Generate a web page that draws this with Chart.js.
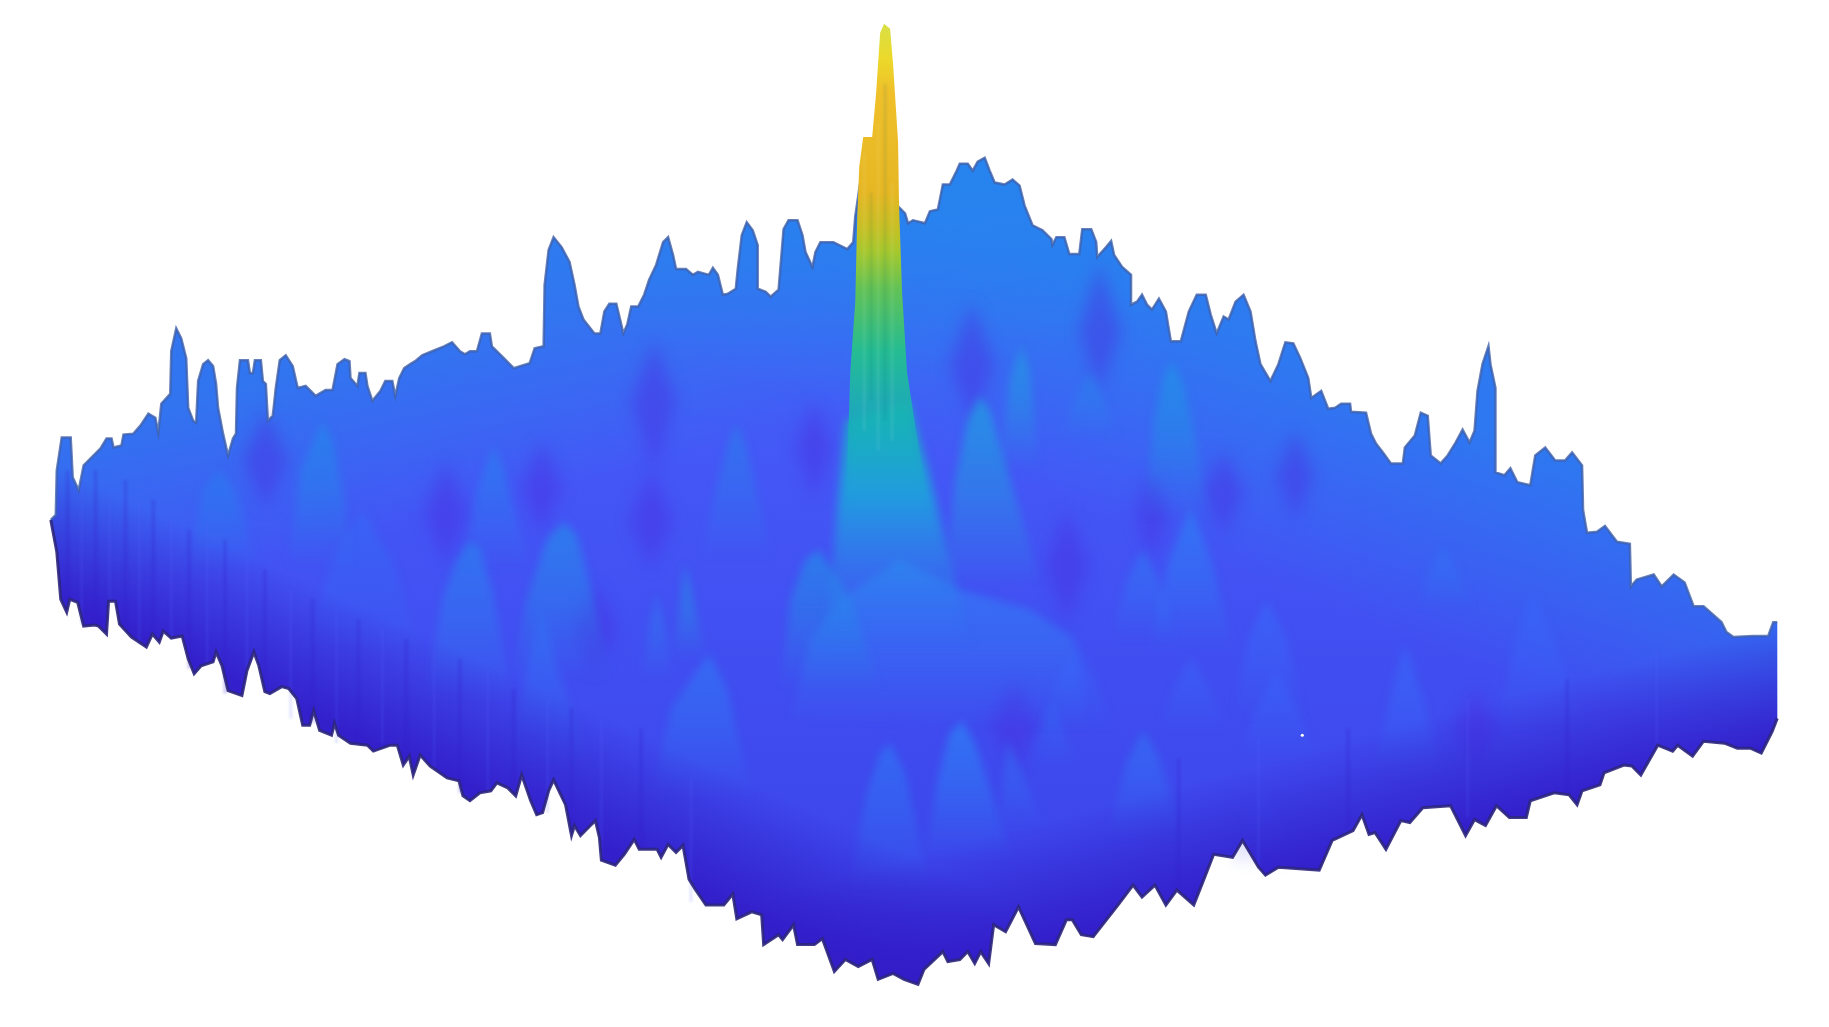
<!DOCTYPE html>
<html>
<head>
<meta charset="utf-8">
<title>Surface</title>
<script src="https://cdn.jsdelivr.net/npm/chart.js"></script>
<style>
html, body { margin: 0; padding: 0; background: #fff; }
canvas { display: block; filter: blur(0.7px); }
</style>
</head>
<body>
<canvas id="grafico" width="1829" height="1027"></canvas>
<script>
// silhouette of the surface as [column, row]
const topEdge = [[47,520],[52,515],[53,470],[58,437],[67,437],[69,477],[75,490],[80,465],[88,457],[97,448],[103,438],[108,438],[110,447],[118,445],[120,434],[130,433],[137,425],[145,413],[152,417],[155,432],[158,403],[167,393],[168,350],[173,327],[178,337],[183,357],[185,407],[190,420],[193,422],[195,380],[200,363],[205,359],[210,365],[213,383],[215,407],[220,433],[225,455],[230,438],[233,433],[234,387],[237,359],[245,359],[247,372],[250,372],[252,359],[258,359],[260,380],[263,383],[265,420],[270,415],[273,387],[277,359],[283,354],[290,365],[295,387],[303,385],[313,395],[323,389],[330,389],[335,363],[342,358],[347,360],[348,377],[355,385],[357,372],[363,372],[365,385],[370,400],[378,390],[383,380],[390,380],[393,395],[397,377],[402,367],[408,363],[413,360],[420,354],[430,350],[442,345],[450,341],[458,350],[463,353],[468,350],[475,350],[480,332],[488,332],[490,345],[500,355],[512,367],[528,362],[533,347],[542,345],[543,283],[547,248],[552,235],[560,245],[568,260],[573,283],[577,305],[582,318],[593,332],[599,332],[603,310],[608,302],[615,302],[620,323],[622,332],[626,323],[630,305],[637,305],[643,293],[648,278],[655,263],[662,240],[667,235],[672,253],[675,267],[685,267],[692,273],[697,270],[708,273],[712,266],[717,273],[722,293],[727,292],[735,287],[737,267],[741,233],[746,220],[752,228],[757,243],[757,287],[765,290],[770,295],[778,288],[783,227],[788,218],[797,218],[802,233],[805,250],[812,265],[815,250],[820,240],[833,240],[847,247],[853,240],[855,214],[860,180],[870,180],[890,180],[898,204],[905,211],[908,221],[913,218],[925,221],[930,209],[938,207],[943,182],[950,182],[956,170],[960,161],[968,161],[973,168],[978,159],[985,155],[990,168],[995,180],[1005,182],[1013,177],[1020,183],[1025,203],[1033,223],[1043,228],[1052,237],[1053,243],[1057,235],[1065,235],[1070,252],[1080,252],[1083,227],[1092,227],[1097,240],[1098,255],[1107,245],[1112,239],[1115,253],[1123,265],[1132,273],[1132,303],[1138,300],[1143,293],[1148,303],[1153,308],[1160,297],[1167,310],[1172,340],[1182,340],[1190,310],[1198,293],[1207,293],[1212,313],[1218,332],[1225,315],[1230,318],[1237,300],[1245,293],[1252,310],[1257,340],[1262,363],[1272,380],[1280,363],[1287,341],[1295,342],[1302,357],[1310,377],[1313,397],[1323,390],[1330,408],[1337,407],[1343,403],[1352,403],[1353,411],[1368,412],[1373,433],[1378,443],[1385,452],[1393,463],[1405,463],[1407,447],[1417,435],[1423,412],[1430,415],[1433,455],[1443,463],[1450,455],[1458,442],[1465,429],[1472,442],[1477,430],[1480,390],[1485,363],[1491,345],[1493,363],[1498,387],[1498,472],[1507,475],[1513,468],[1520,482],[1533,485],[1535,473],[1538,455],[1548,447],[1558,460],[1568,460],[1575,452],[1585,465],[1586,510],[1590,533],[1600,532],[1608,526],[1620,542],[1633,544],[1634,587],[1640,580],[1657,575],[1665,587],[1677,575],[1688,583],[1697,607],[1707,607],[1725,623],[1730,633],[1737,638],[1757,637],[1772,637],[1777,623],[1781,623]];
const bottomEdge = [[47,520],[53,552],[57,600],[63,613],[66,600],[74,603],[80,627],[91,626],[95,627],[103,635],[105,602],[112,602],[116,625],[128,638],[143,648],[149,635],[156,643],[160,632],[168,639],[179,637],[185,660],[191,675],[198,667],[210,663],[213,653],[219,667],[225,692],[239,697],[244,672],[251,653],[256,667],[262,693],[267,695],[279,688],[286,690],[294,700],[300,727],[307,727],[311,712],[317,732],[329,737],[332,725],[336,737],[348,745],[365,747],[371,753],[388,747],[395,747],[401,767],[407,758],[411,777],[418,757],[428,768],[445,780],[457,783],[461,798],[468,803],[478,795],[489,793],[495,785],[506,790],[514,798],[520,777],[529,803],[535,817],[541,815],[547,793],[552,782],[564,807],[570,838],[573,828],[579,838],[589,828],[594,823],[598,840],[600,863],[614,868],[623,857],[633,842],[638,852],[656,852],[660,860],[667,847],[675,855],[682,848],[688,882],[694,892],[705,908],[723,908],[732,897],[736,922],[751,915],[761,918],[763,948],[778,938],[782,943],[793,928],[797,948],[814,948],[822,942],[834,975],[845,963],[858,970],[872,963],[878,983],[893,977],[904,983],[918,988],[924,973],[943,955],[948,965],[960,963],[968,955],[975,967],[981,955],[989,967],[994,928],[1006,935],[1019,910],[1036,947],[1056,948],[1067,923],[1073,923],[1082,938],[1094,940],[1119,908],[1134,888],[1143,900],[1156,888],[1167,908],[1178,893],[1195,908],[1206,880],[1215,857],[1234,860],[1244,843],[1260,870],[1267,878],[1280,870],[1321,873],[1334,843],[1355,833],[1364,817],[1371,837],[1377,835],[1388,852],[1403,823],[1412,825],[1425,810],[1453,808],[1468,838],[1477,822],[1488,828],[1499,808],[1512,820],[1529,820],[1533,803],[1557,795],[1572,797],[1580,807],[1585,793],[1603,787],[1607,775],[1627,767],[1635,768],[1644,777],[1661,747],[1676,753],[1681,747],[1696,758],[1707,743],[1728,745],[1741,750],[1754,750],[1765,755],[1776,733],[1781,720]];

// the tall spike in the middle and its foot
const spike = [[846,500],[850,371],[855,300],[857,214],[859,164],[863,134],[872,134],[876,89],[880,29],[884,20],[890,25],[893,61],[898,139],[899,204],[902,290],[907,371],[916,430],[928,500]];
const spikeFoot = [[825,650],[836,520],[846,420],[908,400],[928,470],[945,540],[972,650]];

// lighter humps inside the surface
const humpA = [[425,700],[440,600],[455,560],[467,542],[478,548],[490,590],[510,700]];
const humpB = [[510,680],[525,600],[545,540],[562,522],[575,535],[590,590],[610,680]];
const humpC = [[780,690],[790,600],[805,560],[818,550],[832,570],[850,600],[880,690]];
const humpD = [[945,590],[955,480],[968,420],[980,395],[990,410],[1005,460],[1040,580]];
const humpE = [[1000,470],[1010,380],[1022,345],[1030,370],[1040,470]];
const humpF = [[1145,520],[1155,420],[1165,375],[1173,360],[1185,385],[1195,430],[1210,520]];
const humpG = [[700,560],[715,490],[728,440],[736,423],[745,445],[758,500],[772,560]];
const humpH = [[460,570],[475,490],[492,445],[502,470],[515,520],[530,570]];
const humpI = [[285,570],[298,470],[320,420],[330,440],[342,500],[350,570]];
const humpJ = [[185,570],[200,490],[215,470],[232,490],[255,570]];
const humpK = [[925,860],[938,780],[950,735],[962,722],[975,745],[990,790],[1012,860]];
const humpL = [[850,890],[865,800],[880,755],[890,745],[905,775],[930,890]];
const humpM = [[1110,840],[1125,770],[1144,732],[1160,760],[1185,840]];
const humpN = [[1375,780],[1392,700],[1407,646],[1425,700],[1445,780]];
const humpO = [[1150,650],[1170,560],[1192,508],[1212,560],[1235,650]];
const humpP = [[1235,720],[1250,640],[1268,600],[1288,640],[1305,720]];
const humpQ = [[790,720],[810,640],[840,600],[900,560],[960,590],[1030,610],[1075,640],[1090,730]];
const humpR = [[650,800],[670,710],[708,655],[726,690],[752,800]];
const humpS = [[505,770],[525,670],[540,608],[556,670],[590,770]];
const humpT = [[1500,730],[1518,640],[1536,592],[1556,640],[1590,730]];
const humpU = [[1112,640],[1128,580],[1144,550],[1160,580],[1178,640]];
const humpV = [[300,660],[330,560],[360,510],[390,560],[420,660]];
const humpW = [[640,680],[648,630],[655,595],[664,630],[672,680]];
const humpX = [[672,660],[680,600],[684,565],[692,600],[705,660]];
const humpY = [[1060,440],[1075,400],[1091,370],[1105,400],[1120,440]];
const humpZ = [[1420,610],[1432,570],[1445,546],[1460,570],[1475,610]];
const humpAA = [[1040,730],[1058,680],[1077,646],[1095,680],[1115,730]];
const humpAB = [[1160,730],[1175,690],[1192,660],[1210,690],[1230,730]];
const humpAC = [[1240,760],[1258,710],[1278,674],[1298,710],[1320,760]];
const humpAD = [[1000,830],[1005,770],[1008,742],[1020,770],[1045,830]];
const humpAE = [[1230,870],[1250,820],[1264,790],[1280,820],[1300,870]];
const humpAF = [[1030,770],[1040,735],[1053,704],[1065,735],[1080,770]];

// darker hollows between the humps
const hollowA = [[653,340],[675,400],[653,470],[630,400]];
const hollowB = [[1067,510],[1090,565],[1067,625],[1045,565]];
const hollowC = [[444,460],[465,513],[444,565],[422,513]];
const hollowD = [[1015,680],[1040,725],[1015,775],[990,725]];
const hollowE = [[972,300],[995,364],[972,420],[950,364]];
const hollowF = [[650,470],[672,520],[650,570],[628,520]];
const hollowG = [[540,440],[560,487],[540,535],[520,487]];
const hollowH = [[813,400],[832,447],[813,500],[795,447]];
const hollowI = [[263,410],[285,460],[263,510],[240,460]];
const hollowJ = [[593,585],[615,630],[593,675],[572,630]];
const hollowK = [[1225,450],[1245,491],[1225,535],[1205,491]];
const hollowL = [[1297,430],[1315,475],[1297,520],[1278,475]];
const hollowM = [[1153,470],[1170,514],[1153,560],[1136,514]];
const hollowN = [[1100,260],[1122,330],[1100,390],[1080,330]];
const hollowO = [[1478,690],[1500,730],[1478,770],[1455,730]];

// vertical streaks along the front of the surface: column, from row, to row
const streakX = [64,78,92,106,122,136,150,168,186,204,222,244,262,288,310,334,356,380,404,432,458,486,512,546,570,600,640,690,1180,1260,1350,1470,1570,1660];
const streakFrom = [470,480,470,500,480,500,500,520,530,520,540,560,570,590,600,610,620,630,640,650,660,670,690,700,710,720,730,780,760,740,730,700,680,650];
const streakTo = [600,625,625,600,630,645,635,640,670,665,695,670,690,720,725,745,745,745,765,770,795,795,795,815,835,860,850,905,890,870,830,820,795,745];

// streaks running down the spike
const spikeStreakX = [864,871,878,885,892];
const spikeStreakFrom = [150,190,120,80,180];
const spikeStreakTo = [430,400,450,420,440];

const reflection = [[1304,737]];

const canvas = document.getElementById('grafico');
const ctx = canvas.getContext('2d');

function degrade(x0, y0, x1, y1, paradas) {
    const g = ctx.createLinearGradient(x0, y0, x1, y1);
    paradas.forEach(p => g.addColorStop(p[0], p[1]));
    return g;
}

function ponto(p) {
    return { x: p[0], y: p[1] };
}

function forma(pontos, fundo, suave) {
    return {
        data: pontos.map(ponto),
        showLine: true,
        fill: 'shape',
        borderWidth: 0,
        backgroundColor: fundo,
        pointRadius: 0,
        suave: suave || 0
    };
}

function lombada(pontos, r, g, b, alfa) {
    const ys = pontos.map(p => p[1]);
    const topo = Math.min(...ys);
    const base = Math.max(...ys);
    return forma(pontos, degrade(0, topo, 0, base, [
        [0, `rgba(${r},${g},${b},${alfa})`],
        [0.5, `rgba(${r},${g},${b},${alfa * 0.6})`],
        [1, `rgba(${r},${g},${b},0)`]
    ]), 4);
}

function cavidade(pontos) {
    return forma(pontos, 'rgba(74,44,224,0.42)', 8);
}

function estrias(xs, de, ate, resto, cor, largura) {
    const pts = [];
    xs.forEach((x, i) => {
        if (i % 2 === resto) {
            pts.push({ x: x, y: de[i] }, { x: x, y: ate[i] }, { x: x, y: NaN });
        }
    });
    return { data: pts, showLine: true, borderColor: cor, borderWidth: largura, pointRadius: 0, fill: false, spanGaps: false, suave: 1 };
}

const silhueta = topEdge.concat(bottomEdge.slice().reverse());

// listed back to front, Chart.js paints the first dataset last so the list is flipped below
const camadas = [
    forma(silhueta, degrade(0, 150, 0, 900, [[0, '#3f6cf6'], [0.45, '#4456f6'], [1, '#3c44ea']])),
    // lighter band behind the back edges
    forma(silhueta, degrade(465, 327, 512, 501, [[0, 'rgba(38,132,236,0.6)'], [1, 'rgba(38,132,236,0)']])),
    forma(silhueta, degrade(1255, 340, 1175, 545, [[0, 'rgba(34,136,238,0.65)'], [1, 'rgba(34,136,238,0)']])),
    cavidade(hollowA), cavidade(hollowB), cavidade(hollowC), cavidade(hollowD), cavidade(hollowE),
    cavidade(hollowF), cavidade(hollowG), cavidade(hollowH), cavidade(hollowI), cavidade(hollowJ),
    cavidade(hollowK), cavidade(hollowL), cavidade(hollowM), cavidade(hollowN), cavidade(hollowO),
    lombada(humpQ, 50, 125, 245, 0.75),
    lombada(humpV, 50, 110, 245, 0.5),
    lombada(humpA, 46, 125, 240, 0.75),
    lombada(humpB, 40, 135, 235, 0.75),
    lombada(humpC, 36, 140, 232, 0.7),
    lombada(humpD, 34, 155, 225, 0.8),
    lombada(humpE, 34, 155, 225, 0.7),
    lombada(humpF, 34, 145, 230, 0.75),
    lombada(humpG, 40, 130, 235, 0.6),
    lombada(humpH, 40, 130, 240, 0.65),
    lombada(humpI, 36, 135, 235, 0.7),
    lombada(humpJ, 40, 125, 240, 0.6),
    lombada(humpK, 46, 125, 245, 0.8),
    lombada(humpL, 46, 120, 245, 0.65),
    lombada(humpM, 50, 115, 245, 0.65),
    lombada(humpN, 55, 110, 250, 0.6),
    lombada(humpO, 46, 125, 245, 0.75),
    lombada(humpP, 55, 110, 250, 0.55),
    lombada(humpR, 46, 125, 245, 0.6),
    lombada(humpS, 50, 115, 245, 0.6),
    lombada(humpT, 55, 105, 250, 0.55),
    lombada(humpU, 46, 125, 245, 0.55),
    lombada(humpW, 46, 125, 240, 0.6),
    lombada(humpX, 36, 145, 228, 0.7),
    lombada(humpY, 40, 135, 235, 0.55),
    lombada(humpZ, 50, 115, 245, 0.6),
    lombada(humpAA, 55, 105, 250, 0.5),
    lombada(humpAB, 55, 105, 250, 0.5),
    lombada(humpAC, 55, 105, 250, 0.5),
    lombada(humpAD, 50, 115, 245, 0.6),
    lombada(humpAE, 60, 80, 245, 0.45),
    lombada(humpAF, 50, 110, 245, 0.45),
    // dark front edges
    forma(silhueta, degrade(475, 790, 525, 680, [[0, 'rgba(50,28,200,0.92)'], [1, 'rgba(50,28,200,0)']])),
    forma(silhueta, degrade(1340, 862, 1310, 750, [[0, 'rgba(50,28,200,0.92)'], [1, 'rgba(50,28,200,0)']])),
    estrias(streakX, streakFrom, streakTo, 0, 'rgba(50,30,200,0.2)', 4),
    estrias(streakX, streakFrom, streakTo, 1, 'rgba(90,100,255,0.16)', 3),
    // outlines
    { data: topEdge.map(ponto), showLine: true, borderColor: 'rgba(62,96,170,0.8)', borderWidth: 2.5, pointRadius: 0, fill: false },
    { data: bottomEdge.map(ponto), showLine: true, borderColor: 'rgba(44,38,125,0.9)', borderWidth: 3, pointRadius: 0, fill: false },
    forma(spikeFoot, degrade(0, 400, 0, 650, [[0, 'rgba(24,178,190,0.95)'], [0.4, 'rgba(28,165,220,0.85)'], [1, 'rgba(50,120,245,0)']]), 5),
    forma(spike, degrade(0, 20, 0, 500, [
        [0, '#d6e04a'], [0.08, '#ecd92a'], [0.15, '#efc02a'], [0.36, '#e6b722'], [0.43, '#c8bf24'],
        [0.48, '#a8c82c'], [0.56, '#62c255'], [0.69, '#25bc92'], [0.83, 'rgba(23,179,180,0.85)'], [1, 'rgba(25,170,205,0)']
    ])),
    estrias(spikeStreakX, spikeStreakFrom, spikeStreakTo, 0, 'rgba(255,255,255,0.08)', 3),
    estrias(spikeStreakX, spikeStreakFrom, spikeStreakTo, 1, 'rgba(0,90,110,0.1)', 3),
    { data: reflection.map(ponto), pointRadius: 1.6, pointBackgroundColor: '#ffffff', pointBorderWidth: 0, showLine: false }
];

// soft edges for the inner layers: the filter is set once the previous layer is done
const desfoque = {
    id: 'desfoque',
    afterDatasetDraw(chart, args) {
        const seguinte = chart.data.datasets[args.index - 1];
        chart.ctx.filter = seguinte && seguinte.suave ? `blur(${seguinte.suave}px)` : 'none';
    }
};

new Chart(ctx, {
    type: 'scatter',
    data: { datasets: camadas.reverse() },
    plugins: [desfoque],
    options: {
        responsive: false,
        animation: false,
        layout: { padding: 0 },
        plugins: { legend: { display: false }, tooltip: { enabled: false } },
        scales: {
            x: { type: 'linear', min: 0, max: 1829, display: false },
            y: { type: 'linear', min: 0, max: 1027, reverse: true, display: false }
        }
    }
});
</script>
</body>
</html>
